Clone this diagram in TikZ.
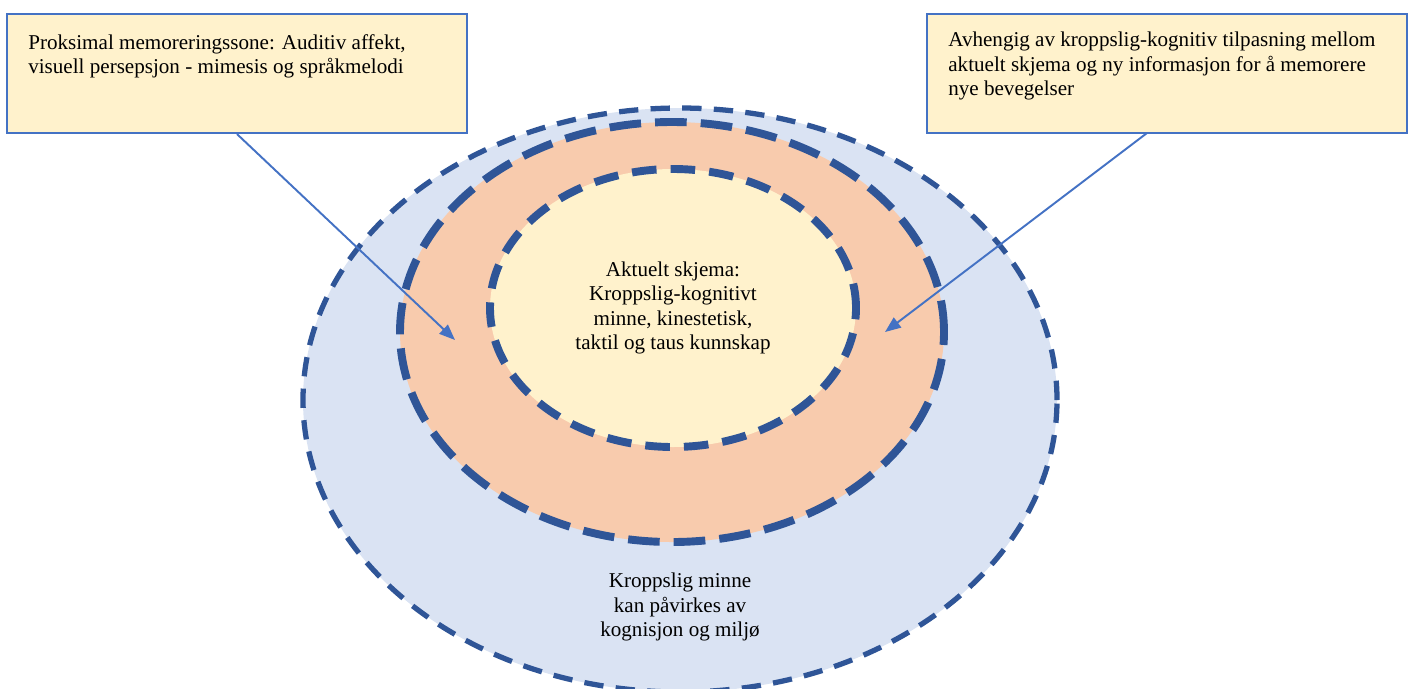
\documentclass[tikz,border=0pt]{standalone}
\usepackage{fontspec}
\setmainfont{Liberation Serif}
\usepackage{tikz}
\usetikzlibrary{positioning, shapes.geometric, arrows.meta}

\definecolor{boxfill}{HTML}{FFF2CC}
\definecolor{boxline}{HTML}{4472C4}
\definecolor{outerfill}{HTML}{DAE3F3}
\definecolor{midfill}{HTML}{F8CBAD}
\definecolor{dashblue}{HTML}{2F5597}

\begin{document}
\begin{tikzpicture}[semithick,
                    font=\fontsize{12}{13.8}\selectfont,
                    ring/.style={ellipse, inner sep=0pt, draw=dashblue, line width=#1},
                    ring/.default=4.5pt,
                    note/.style={rectangle, draw=boxline, fill=boxfill, line width=1.2pt, minimum height=2.38cm},
                    pointer/.style={-{Triangle[length=9pt,width=7pt]}, color=boxline, line width=1.1pt}]

    \useasboundingbox (0,0) rectangle (28.24,-13.76);

    % the three zones
    \node[ring=3pt, fill=outerfill, dash pattern=on 11pt off 7pt,
          minimum width=15.08cm, minimum height=11.68cm] (outer) at (13.6,-8.0) {};
    \node[ring, fill=midfill, dash pattern=on 18pt off 8pt,
          minimum width=10.88cm, minimum height=8.4cm]   (mid)   at (13.44,-6.64) {};
    \node[ring, fill=boxfill, dash pattern=on 14pt off 8pt, align=center,
          minimum width=7.32cm, minimum height=5.56cm]   (inner) at (13.46,-6.16)
          {Aktuelt skjema:\\Kroppslig-kognitivt\\minne, kinestetisk,\\taktil og taus kunnskap};

    \node[align=center] (outer-txt) at (13.6,-12.14)
          {Kroppslig minne\\kan påvirkes av\\kognisjon og miljø};

    % explanation boxes
    \node[note, minimum width=9.2cm] (left-box)  at (4.74,-1.47) {};
    \node[align=left] (left-txt) [below right=0.3cm and 0.32cm of left-box.north west]
          {Proksimal memoreringssone: Auditiv affekt,\\visuell persepsjon - mimesis og språkmelodi};

    \node[note, minimum width=9.6cm] (right-box) at (23.34,-1.47) {};
    \node[align=left] (right-txt) [below right=0.26cm and 0.32cm of right-box.north west]
          {Avhengig av kroppslig-kognitiv tilpasning mellom\\aktuelt skjema og ny informasjon for å memorere\\nye bevegelser};

    \coordinate (left-end)    at (9.1,-6.8);
    \coordinate (right-start) at (22.94,-2.66);
    \coordinate (right-end)   at (17.7,-6.64);

    \draw[pointer] (left-box.south) -- (left-end);
    \draw[pointer] (right-start) -- (right-end);

\end{tikzpicture}
\end{document}
